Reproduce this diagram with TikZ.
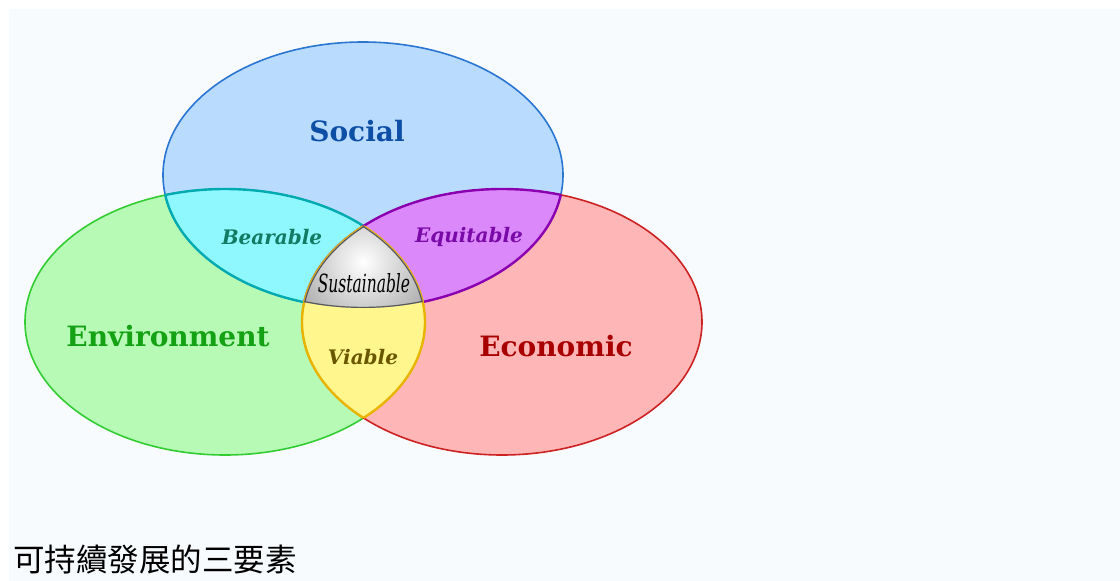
\documentclass[tikz,border=0pt]{standalone}
\usepackage{fontspec}
\setmainfont{DejaVu Serif}
\newfontfamily\cjkfont{Noto Sans CJK TC}
\usetikzlibrary{positioning,shadings}

\definecolor{pagebg}{HTML}{F8FBFE}
\definecolor{socfill}{HTML}{B9DCFE}
\definecolor{socline}{HTML}{2A76D2}
\definecolor{soctext}{HTML}{0E4FA6}
\definecolor{envfill}{HTML}{B6FAB6}
\definecolor{envline}{HTML}{33CC33}
\definecolor{envtext}{HTML}{14A214}
\definecolor{ecofill}{HTML}{FEB6B6}
\definecolor{ecoline}{HTML}{CC2222}
\definecolor{ecotext}{HTML}{A80000}
\definecolor{bearfill}{HTML}{8EF8FE}
\definecolor{bearline}{HTML}{00AAB0}
\definecolor{beartext}{HTML}{137A64}
\definecolor{equifill}{HTML}{DB88FA}
\definecolor{equiline}{HTML}{8A00B0}
\definecolor{equitext}{HTML}{7A0AA8}
\definecolor{viafill}{HTML}{FFF68E}
\definecolor{vialine}{HTML}{E8B400}
\definecolor{viatext}{HTML}{6B5600}

\begin{document}
\begin{tikzpicture}[x=1pt, y=-1pt,
    main label/.style={font=\fontsize{28}{30}\selectfont\bfseries, inner sep=0pt},
    pair label/.style={font=\fontsize{20}{24}\selectfont\bfseries\itshape, inner sep=0pt},
    lens edge/.style={line width=2.4pt}]

    % page
    \fill [white] (0,0) rectangle (1120,581);
    \fill [pagebg] (9,9) rectangle (1120,581);

    % the three circles
    \def\social{(363,175) ellipse [x radius=200pt, y radius=133pt]}
    \def\environ{(225,322) ellipse [x radius=200pt, y radius=133pt]}
    \def\economic{(502,322) ellipse [x radius=200pt, y radius=133pt]}

    \filldraw [fill=socfill, draw=socline, line width=1.6pt] \social;
    \filldraw [fill=envfill, draw=envline, line width=1.6pt] \environ;
    \filldraw [fill=ecofill, draw=ecoline, line width=1.6pt] \economic;
    \begin{scope}
        \clip \environ;
        \draw [socline, line width=1.6pt] \social;
    \end{scope}

    % bearable
    \begin{scope}
        \clip \social;
        \filldraw [fill=bearfill, draw=bearline, lens edge] \environ;
    \end{scope}
    \begin{scope}
        \clip \environ;
        \draw [bearline, lens edge] \social;
    \end{scope}

    % equitable
    \begin{scope}
        \clip \social;
        \filldraw [fill=equifill, draw=equiline, lens edge] \economic;
    \end{scope}
    \begin{scope}
        \clip \economic;
        \draw [equiline, lens edge] \social;
    \end{scope}

    % viable
    \begin{scope}
        \clip \environ;
        \filldraw [fill=viafill, draw=vialine, lens edge] \economic;
    \end{scope}
    \begin{scope}
        \clip \economic;
        \draw [vialine, lens edge] \environ;
    \end{scope}

    % sustainable
    \begin{scope}
        \clip \social;
        \clip \environ;
        \clip \economic;
        \shade [inner color=white, outer color=black!32] (363,262) circle (72pt);
        \draw [black!65, lens edge] \social;
        \draw [black!65, lens edge] \environ;
        \draw [black!65, lens edge] \economic;
    \end{scope}

    % labels
    \node [main label, text=soctext] (soc) at (357,131) {Social};
    \node [main label, text=envtext] (env) at (168,336) {Environment};
    \node [main label, text=ecotext] (eco) at (556,346) {Economic};
    \node [pair label, text=beartext] (bear) at (272,237) {Bearable};
    \node [pair label, text=equitext] (equi) at (469,237) {Equitable};
    \node [pair label, text=viatext] (via) at (363,357) {Viable};
    \node [inner sep=0pt, font=\fontsize{25}{28}\selectfont\itshape] (sus) at (364,283)
        {\scalebox{0.62}[1]{Sustainable}};

    \node [anchor=west, inner sep=0pt, font=\cjkfont\fontsize{31.5}{34}\selectfont] (cap) at (13,560) {可持續發展的三要素};
\end{tikzpicture}
\end{document}
